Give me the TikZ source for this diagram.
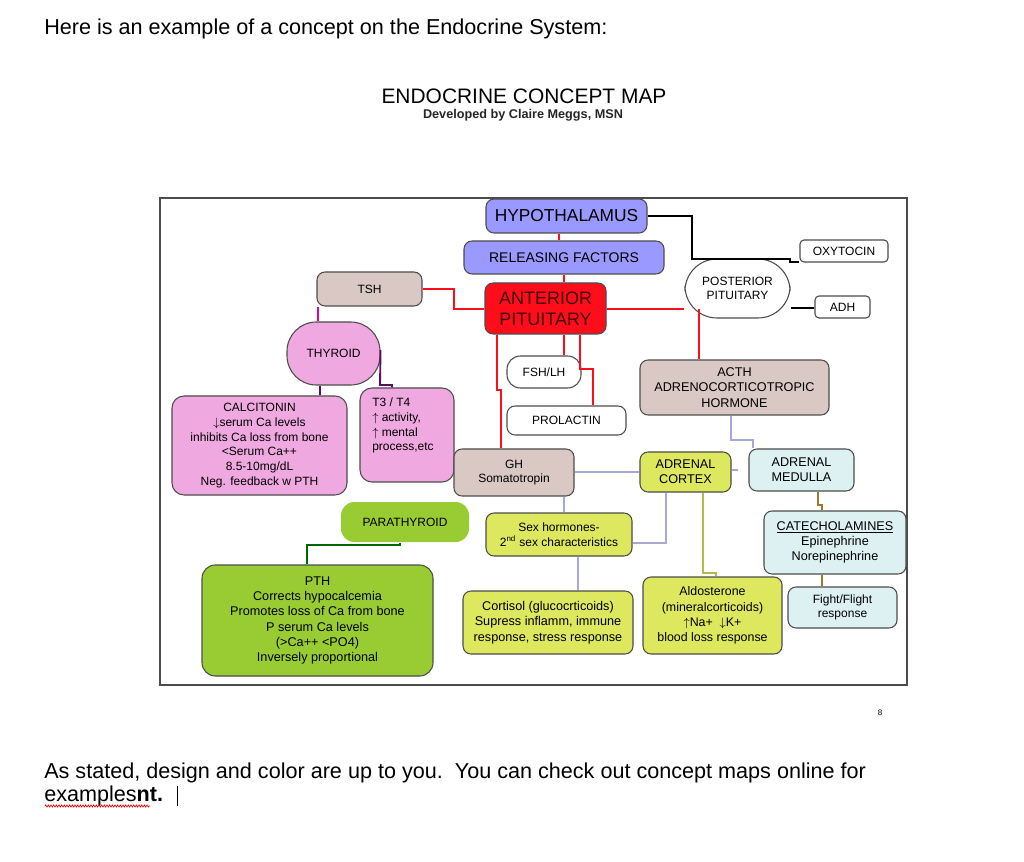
\documentclass[tikz,border=0pt]{standalone}
\usepackage{fontspec}
\setmainfont{Liberation Sans}
\usetikzlibrary{decorations.pathmorphing}
\definecolor{cpur}{HTML}{9999FF}
\definecolor{cred}{HTML}{FF0D1A}
\definecolor{ctan}{HTML}{D9C8C4}
\definecolor{cpink}{HTML}{F0A8E0}
\definecolor{cyel}{HTML}{DDE85F}
\definecolor{cgrn}{HTML}{99CC33}
\definecolor{ccyan}{HTML}{DDF0F2}
\definecolor{clav}{HTML}{A8A8D8}
\definecolor{cbrn}{HTML}{A0782A}
\definecolor{cpurl}{HTML}{5A1060}
\tikzset{
 bx/.style n args={2}{draw=black!70, line width=0.8pt, rounded corners=6pt, align=center, inner sep=1pt,
   minimum width=#1*0.75pt, minimum height=#2*0.75pt, font=\fontsize{9}{11}\selectfont},
 redl/.style={draw=cred, line width=1.4pt},
 lavl/.style={draw=clav, line width=1.2pt},
 blkl/.style={draw=black, line width=1.4pt},
}
\begin{document}
\begin{tikzpicture}[x=0.75pt,y=-0.75pt]
\fill[white] (0,0) rectangle (1024,862);
\useasboundingbox (0,0) rectangle (1024,862);
\node[anchor=base west, inner sep=0pt, font=\fontsize{16.2}{19}\selectfont] (top) at (44,35) {Here is an example of a concept on the Endocrine System:};
\node[font=\fontsize{15.7}{18}\selectfont] (title) at (524,96) {ENDOCRINE CONCEPT MAP};
\node[font=\fontsize{9.5}{11}\selectfont\bfseries, text=black!85] (sub) at (523,115) {Developed by Claire Meggs, MSN};
\draw[black!70, line width=0.8pt] (160,198) rectangle (907,685);
% nodes
\node[bx={161}{34}, fill=cpur, font=\fontsize{13}{15}\selectfont] (hyp) at (566.5,216) {HYPOTHALAMUS};
\node[bx={200}{33}, fill=cpur, font=\fontsize{10.5}{12}\selectfont] (rf) at (564,257.5) {RELEASING FACTORS};
\node[bx={121}{51}, fill=cred, text=black!75!red, font=\fontsize{13.5}{16}\selectfont] (ap) at (545.5,308.5) {ANTERIOR\\PITUITARY};
\node[bx={105}{34}, fill=ctan] (tsh) at (369.5,289) {TSH};
\node[bx={93}{63}, fill=cpink, rounded corners=22pt] (thy) at (333.5,353.5) {THYROID};
\node[bx={175}{99}, fill=cpink, rounded corners=9pt, font=\fontsize{9}{11}\selectfont] (cal) at (259.5,445.5) {CALCITONIN\\$\downarrow$serum Ca levels\\inhibits Ca loss from bone\\<Serum Ca++\\8.5-10mg/dL\\Neg. feedback w PTH};
\node[bx={94}{94}, fill=cpink, rounded corners=9pt] (t34) at (407,435) {};
\node[anchor=north west, align=left, inner sep=0pt, font=\fontsize{9}{11}\selectfont] (t34t) at (372,398) {T3 / T4\\$\uparrow$ activity,\\$\uparrow$ mental\\process,etc};
\node[bx={74}{32}, fill=white, rounded corners=10pt] (fsh) at (544,372) {FSH/LH};
\node[bx={119}{29}, fill=white] (pro) at (566.5,420.5) {PROLACTIN};
\node[bx={120}{47}, fill=ctan] (gh) at (514,472.5) {GH\\Somatotropin};
\node[bx={105}{59}, fill=white, rounded corners=24pt] (post) at (737.5,288.5) {POSTERIOR\\PITUITARY};
\node[bx={88}{22}, fill=white, rounded corners=3pt] (oxy) at (844,251) {OXYTOCIN};
\node[bx={55}{22}, fill=white, rounded corners=3pt] (adh) at (842.5,307) {ADH};
\node[bx={189}{55}, fill=ctan, font=\fontsize{9.5}{11.5}\selectfont] (acth) at (734.5,387.5) {ACTH\\ADRENOCORTICOTROPIC\\HORMONE};
\node[bx={91}{40}, fill=cyel, font=\fontsize{9.5}{11}\selectfont] (cortex) at (685.5,472) {ADRENAL\\CORTEX};
\node[bx={105}{42}, fill=ccyan, font=\fontsize{9.5}{11}\selectfont] (med) at (801.5,470) {ADRENAL\\MEDULLA};
\node[bx={128}{40}, fill=cgrn, draw=none, rounded corners=10pt] (para) at (405,522) {PARATHYROID};
\node[bx={231}{111}, fill=cgrn, rounded corners=10pt, font=\fontsize{9.5}{11.5}\selectfont] (pth) at (317.5,620.5) {PTH\\Corrects hypocalcemia\\Promotes loss of Ca from bone\\P  serum Ca levels\\(>Ca++ <PO4)\\Inversely proportional};
\node[bx={146}{43}, fill=cyel, font=\fontsize{9}{11}\selectfont] (sex) at (559,534.5) {Sex hormones-\\2$^{\mathrm{nd}}$ sex characteristics};
\node[bx={170}{63}, fill=cyel, font=\fontsize{9.5}{11.5}\selectfont] (cort) at (548,622.5) {Cortisol (glucocrticoids)\\Supress inflamm, immune\\response, stress response};
\node[bx={139}{77}, fill=cyel, font=\fontsize{9.3}{11.5}\selectfont] (aldo) at (712.5,615.5) {Aldosterone\\(mineralcorticoids)\\$\uparrow$Na+ \ $\downarrow$K+\\blood loss response};
\node[bx={142}{63}, fill=ccyan, font=\fontsize{9.5}{11.5}\selectfont] (cat) at (835,542.5) {\underline{CATECHOLAMINES}\\Epinephrine\\Norepinephrine};
\node[bx={109}{41}, fill=ccyan] (fight) at (842.5,607.5) {Fight/Flight\\response};
% connectors
\draw[redl] (hyp.south -| 559,0) -- (rf.north -| 559,0);
\draw[redl] (rf.south -| 564,0) -- (ap.north -| 564,0);
\draw[blkl] (hyp.east |- 0,216) -- (692,216) -- (692,259) -- (790,259) -- (790,262) -- (oxy.west |- 0,262);
\draw[blkl] (post.east |- 0,308) -- (adh.west |- 0,308);
\draw[redl] (ap.west |- 0,309) -- (454,309) -- (454,289) -- (tsh.east |- 0,289);
\draw[draw=magenta, line width=1.2pt] (tsh.south -| 318,0) -- (thy.north -| 318,0);
\draw[draw=cpurl, line width=1.4pt] (thy.east |- 0,350) -- (380,385) -- (392,385) -- (t34.north -| 392,0);
\draw[draw=cpurl, line width=1.4pt] (thy.south -| 320,0) -- (cal.north -| 320,0);
\draw[redl] (ap.east |- 0,309) -- (post.west |- 0,309);
\draw[redl] (699,309) -- (acth.north -| 699,0);
\draw[redl] (ap.south -| 564,0) -- (fsh.north -| 564,0);
\draw[redl] (ap.south -| 580,0) -- (580,369) -- (593,369) -- (pro.north -| 593,0);
\draw[redl] (ap.south -| 497,0) -- (497,390) -- (501,390) -- (gh.north -| 501,0);
\draw[lavl] (gh.east |- 0,472) -- (cortex.west |- 0,472);
\draw[lavl] (cortex.east |- 0,470) -- (738,470);
\draw[lavl] (acth.south -| 731,0) -- (731,440) -- (753,440) -- (med.north -| 753,0);
\draw[lavl] (gh.south -| 564,0) -- (sex.north -| 564,0);
\draw[lavl] (sex.south -| 578,0) -- (cort.north -| 578,0);
\draw[lavl] (cortex.south -| 666,0) -- (666,543) -- (sex.east |- 0,543);
\draw[draw=cyel!80!black, line width=1.2pt] (cortex.south -| 703,0) -- (703,573) -- (716,573) -- (aldo.north -| 716,0);
\draw[draw=cbrn, line width=1.2pt] (med.south -| 818,0) -- (818,505) -- (822,505) -- (cat.north -| 822,0);
\draw[draw=cbrn, line width=1.2pt] (cat.south -| 822,0) -- (fight.north -| 822,0);
\draw[draw=black!60!green, line width=1.6pt] (para.south -| 400,0) -- (400,545) -- (307,545) -- (pth.north -| 307,0);
% page number and bottom text
\node[font=\fontsize{6}{7}\selectfont] (pg) at (880,713) {8};
\node[anchor=base west, inner sep=0pt, font=\fontsize{16.2}{19}\selectfont] (b1) at (44,778) {As stated, design and color are up to you.\ \ You can check out concept maps online for};
\node[anchor=base west, inner sep=0pt, font=\fontsize{16.2}{19}\selectfont] (b2) at (44,801) {examples\textbf{nt.}};
\draw[red, line width=0.5pt, decorate, decoration={zigzag, amplitude=0.8pt, segment length=2pt}] (45,806) -- (150,806);
\draw[black, line width=0.8pt] (b2.east |- 0,786) ++(14,0) coordinate (c1) -- ++(0,20);
\end{tikzpicture}
\end{document}
